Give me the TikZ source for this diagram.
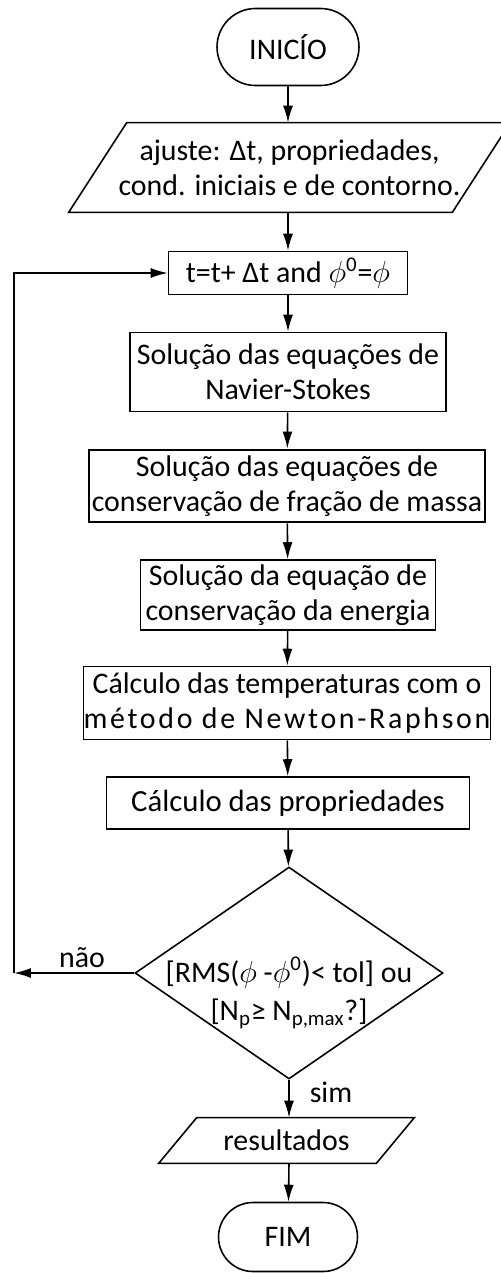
\documentclass[tikz,border=0pt]{standalone}
\usepackage{fontspec}
\setmainfont{Carlito}
\usetikzlibrary{shapes.geometric}
\usetikzlibrary{shapes.misc}
\usetikzlibrary{arrows.meta}

% paralelogramo em volta de um no: #1 = nome, #2 = meio deslocamento
\newcommand{\paralelo}[2]{%
    \draw[line width=0.9pt] ([xshift=-#2]#1.south west) -- ([xshift=-#2]#1.south east)
        -- ([xshift=#2]#1.north east) -- ([xshift=#2]#1.north west) -- cycle;}

\begin{document}
\begin{tikzpicture}[x=0.02cm, y=-0.02cm,
        font=\fontsize{17}{20}\selectfont,
        seta/.style={-{Latex[length=3.4mm,width=2mm]}, line width=0.9pt},
        caixa/.style={draw, line width=0.9pt, align=center, inner sep=0pt},
        terminal/.style={draw, rounded rectangle, line width=0.9pt, inner sep=0pt},
        dados/.style={align=center, inner sep=0pt},
        decisao/.style={draw, diamond, line width=0.9pt, inner sep=0pt}]
        \useasboundingbox (0,0) rectangle (500,1273);

        % Inicio e entrada
        \node[terminal, minimum width=2.84cm, minimum height=1.54cm] (inicio) at (288,47) {INICÍO};
        \node[dados, minimum width=7.66cm, minimum height=1.78cm] (ajuste) at (289.5,167.5)
              {ajuste: Δt, propriedades,\\cond. iniciais e de contorno.};
        \paralelo{ajuste}{0.58cm}

        % Passos do laco
        \node[caixa, minimum width=4.78cm, minimum height=0.86cm] (passo) at (288,273)
              {t=t+ Δt and $\phi$\textsuperscript{0}=$\phi$};
        \node[caixa, minimum width=6.32cm, minimum height=1.58cm] (navier) at (288,372)
              {Solução das equações de\\Navier-Stokes};
        \node[caixa, line width=1.6pt, minimum width=7.92cm, minimum height=1.44cm] (fracao) at (287,486)
              {Solução das equações de\\conservação de fração de massa};
        \node[caixa, minimum width=5.9cm, minimum height=1.4cm] (energia) at (288,595)
              {Solução da equação de\\conservação da energia};
        \node[caixa, minimum width=8.12cm, minimum height=1.46cm] (newton) at (287,703)
              {Cálculo das temperaturas com o\\{\addfontfeature{LetterSpace=9}método de Newton-Raphson}};
        \node[caixa, font=\fontsize{17.5}{20}\selectfont, minimum width=7.26cm, minimum height=1.04cm] (prop) at (288,803)
              {Cálculo das propriedades};

        % Teste de convergencia
        \node[decisao, minimum width=6.16cm, minimum height=4.24cm] (teste) at (289,973) {};
        \node[align=center, font=\fontsize{17}{22}\selectfont] (testetxt) at (289,993)
              {{[}RMS($\phi$ -$\phi$\textsuperscript{0})< tol{]} ou\\{[}N\textsubscript{p}≥ N\textsubscript{p,max}?{]}};

        % Saida e fim
        \node[dados, minimum width=4.34cm, minimum height=0.9cm] (result) at (286.5,1140.5) {resultados};
        \paralelo{result}{0.38cm}
        \node[terminal, minimum width=2.78cm, minimum height=1.38cm] (fim) at (288,1237) {FIM};

        % Ligacoes
        \draw[seta] (inicio) -- (inicio |- ajuste.north);
        \draw[seta] (inicio |- ajuste.south) -- (passo);
        \draw[seta] (passo) -- (navier);
        \draw[seta] (navier) -- (fracao);
        \draw[seta] (fracao) -- (energia);
        \draw[seta] (energia) -- (newton);
        \draw[seta] (newton) -- (prop);
        \draw[seta] (prop) -- (teste);
        \draw[seta] (teste) -- (teste |- result.north);
        \draw[seta] (teste |- result.south) -- (fim);

        % Retorno
        \coordinate (volta) at (14,973);
        \draw[seta] (teste.west) -- (volta);
        \draw[seta] (volta) |- (passo.west);

        % Rotulos
        \node (nao) at (82,958) {não};
        \node (sim) at (331,1092) {sim};
\end{tikzpicture}
\end{document}
